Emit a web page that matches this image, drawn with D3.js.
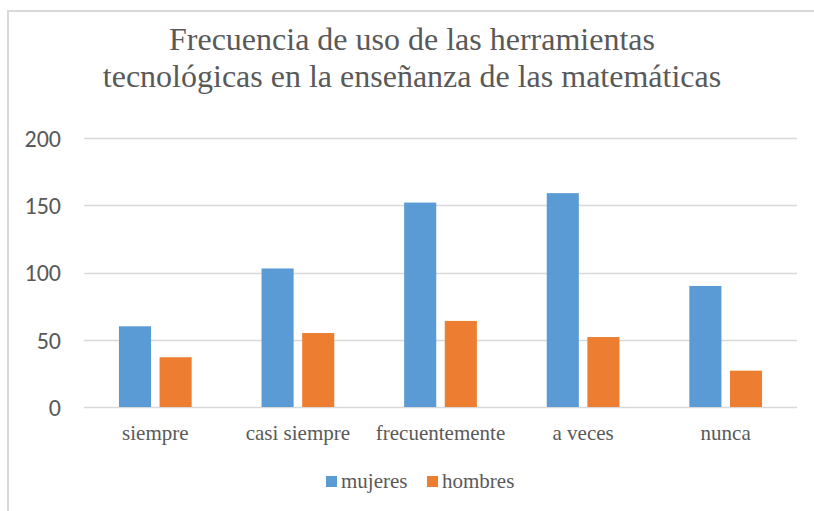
<!DOCTYPE html>
<html>
<head>
<meta charset="utf-8">
<script src="https://cdn.jsdelivr.net/npm/d3@7"></script>
<style>
  html, body { margin: 0; padding: 0; background: #fff; overflow: hidden; }
</style>
</head>
<body>
<div id="chart"></div>
<script>
// data
const categories = ["siempre", "casi siempre", "frecuentemente", "a veces", "nunca"];
const seriesNames = ["mujeres", "hombres"];
const mujeres = [60, 103, 152, 159, 90];
const hombres = [37, 55, 64, 52, 27];
const yTicks = [0, 50, 100, 150, 200];
const titleLines = ["Frecuencia de uso de las herramientas",
                    "tecnológicas en la enseñanza de las matemáticas"];

const colors = { mujeres: "#5b9bd5", hombres: "#ed7d31" };
const textGray = "#595959";
const gridGray = "#d9d9d9";
const serif = "Liberation Serif";

const W = 814, H = 511;
const margin = { top: 138, right: 17, bottom: 104, left: 84 };
const width = W - margin.left - margin.right;
const height = H - margin.top - margin.bottom;

const rows = categories.map((c, i) => ({ cat: c, mujeres: mujeres[i], hombres: hombres[i] }));

const svg = d3.select("#chart")
  .append("svg")
    .attr("width", W)
    .attr("height", H)
    .style("display", "block");

// chart frame (only left/top visible in the crop)
svg.append("path")
    .attr("d", `M8,${H}V11H${W}`)
    .attr("fill", "none")
    .attr("stroke", gridGray)
    .attr("stroke-width", 2);

// title
svg.append("g").selectAll("text")
  .data(titleLines)
  .enter().append("text")
    .attr("x", 412)
    .attr("y", (d, i) => 50 + i * 37)
    .attr("text-anchor", "middle")
    .attr("font-family", serif)
    .attr("font-size", "32px")
    .attr("fill", textGray)
    .text(d => d);

const g = svg.append("g")
    .attr("transform", `translate(${margin.left},${margin.top})`);

const x0 = d3.scaleBand()
    .domain(categories)
    .range([0, width])
    .paddingInner(0.49)
    .paddingOuter(0.245);

const x1 = d3.scaleBand()
    .domain(seriesNames)
    .range([0, x0.bandwidth()])
    .paddingInner(0.21);

const y = d3.scaleLinear()
    .domain([0, 200])
    .range([height, 0]);

// gridlines
g.append("g")
  .selectAll("line")
  .data(yTicks)
  .enter().append("line")
    .attr("x1", 0)
    .attr("x2", width)
    .attr("y1", d => Math.round(y(d)) + 0.5)
    .attr("y2", d => Math.round(y(d)) + 0.5)
    .attr("stroke", gridGray)
    .attr("stroke-width", 1.5);

// y axis labels
const yAxis = g.append("g")
    .call(d3.axisLeft(y).tickValues(yTicks).tickSize(0).tickPadding(23));
yAxis.select(".domain").remove();
yAxis.selectAll(".tick text")
    .attr("font-family", "Carlito")
    .attr("font-size", "24px")
    .attr("fill", textGray)
    .attr("dy", "0.35em");

// bars
const groups = g.append("g")
  .selectAll("g")
  .data(rows)
  .enter().append("g")
    .attr("transform", d => `translate(${x0(d.cat)},0)`);

groups.selectAll("rect")
  .data(d => seriesNames.map(k => ({ key: k, value: d[k] })))
  .enter().append("rect")
    .attr("x", d => x1(d.key))
    .attr("y", d => y(d.value))
    .attr("width", x1.bandwidth())
    .attr("height", d => height - y(d.value))
    .attr("fill", d => colors[d.key]);

// x axis labels
const xAxis = g.append("g")
    .attr("transform", `translate(0,${height})`)
    .call(d3.axisBottom(d3.scaleBand().domain(categories).range([0, width])).tickSize(0).tickPadding(0));
xAxis.select(".domain").remove();
xAxis.selectAll(".tick text")
    .attr("font-family", serif)
    .attr("font-size", "21px")
    .attr("fill", textGray)
    .attr("y", 33)
    .attr("dy", null);

// legend
const legendItems = [
  { name: "mujeres", x: 326 },
  { name: "hombres", x: 427 }
];
const legend = svg.append("g");
legend.selectAll("rect")
  .data(legendItems)
  .enter().append("rect")
    .attr("x", d => d.x)
    .attr("y", 476)
    .attr("width", 11)
    .attr("height", 11)
    .attr("fill", d => colors[d.name]);
legend.selectAll("text")
  .data(legendItems)
  .enter().append("text")
    .attr("x", d => d.x + 15)
    .attr("y", 488)
    .attr("font-family", serif)
    .attr("font-size", "21px")
    .attr("fill", textGray)
    .text(d => d.name);
</script>
</body>
</html>
